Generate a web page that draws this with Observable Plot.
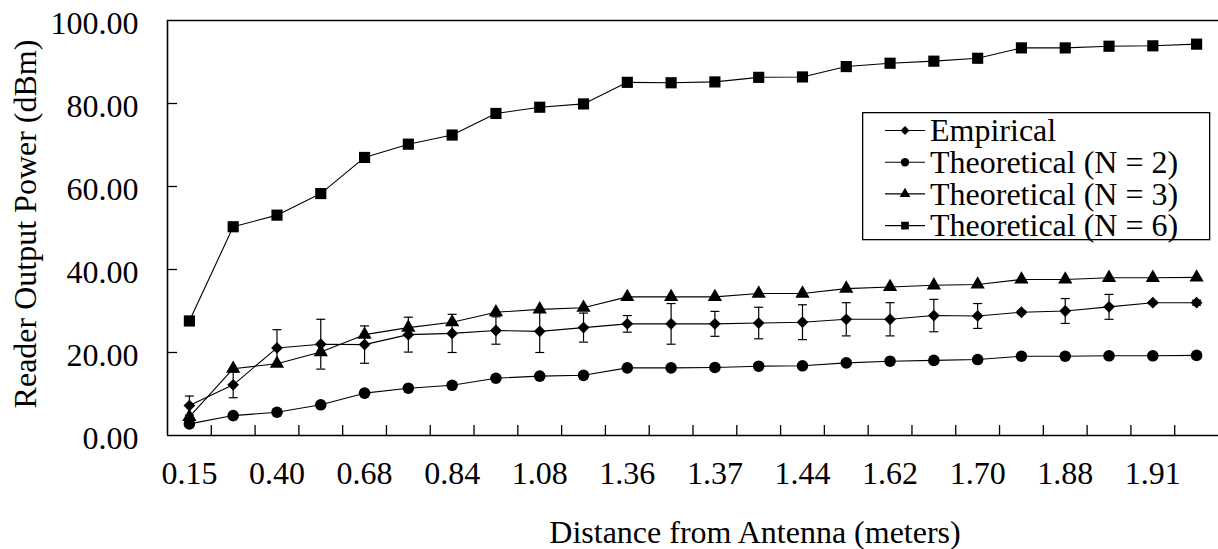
<!DOCTYPE html>
<html>
<head>
<meta charset="utf-8">
<script src="https://cdn.jsdelivr.net/npm/d3@7"></script>
<script src="https://cdn.jsdelivr.net/npm/@observablehq/plot@0.6"></script>
<style>
  html, body { margin: 0; padding: 0; background: #fff; }
  #wrap { position: relative; width: 1218px; height: 549px; overflow: hidden; }
  #legend { position: absolute; left: 862px; top: 112px; overflow: visible; }
</style>
</head>
<body>
<div id="wrap"><div id="chart"></div><svg id="legend" width="349" height="140"></svg></div>
<script>
// ---- data ----
const distanceLabels = ["0.15","0.40","0.68","0.84","1.08","1.36","1.37","1.44","1.62","1.70","1.88","1.91"]; // shown on every other category
const labelStep = 2;
const empirical     = [7.2,12.2,21.1,22.0,21.9,24.3,24.6,25.3,25.1,26.0,26.9,26.9,26.9,27.1,27.3,28.0,28.0,28.9,28.8,29.7,30.0,31.0,32.0,32.0];
const empiricalErr  = [2.3,3.1,4.4,6.0,4.5,4.2,4.6,3.3,5.1,3.5,2.0,4.9,3.0,3.8,4.2,4.0,4.0,3.9,3.0,0.4,3.0,3.0,0.3,0.6];
const theoreticalN2 = [2.8,4.8,5.6,7.4,10.2,11.4,12.1,13.8,14.3,14.5,16.3,16.3,16.4,16.7,16.8,17.5,17.9,18.1,18.3,19.1,19.1,19.2,19.2,19.3];
const theoreticalN3 = [4.5,16.1,17.3,20.1,24.3,26.0,27.3,29.7,30.4,30.8,33.4,33.4,33.4,34.2,34.2,35.4,35.8,36.2,36.4,37.6,37.6,38.0,38.0,38.1];
const theoreticalN6 = [27.6,50.3,53.1,58.3,67.0,70.2,72.4,77.6,79.1,79.9,85.1,85.0,85.2,86.3,86.4,88.9,89.7,90.2,90.9,93.4,93.4,93.8,93.9,94.3];
const yTicks = [0, 20, 40, 60, 80, 100];
const seriesNames = ["Empirical", "Theoretical (N = 2)", "Theoretical (N = 3)", "Theoretical (N = 6)"];
const seriesSymbols = ["diamond2", "circle", "triangle", "square"];
const seriesValues = [empirical, theoreticalN2, theoreticalN3, theoreticalN6];
const xTitle = "Distance from Antenna (meters)";
const yTitle = "Reader Output Power (dBm)";

// ---- layout ----
const W = 1218, H = 549;
const mL = 167, mR = 0, mT = 20, mB = 114;
const plotW = W - mL - mR, plotH = H - mT - mB;
const n = theoreticalN6.length;
const FONT = '"Liberation Serif", "Times New Roman", serif';

const symbolR = {diamond2: 5.3, circle: 5.8, triangle: 5.3, square: 6.3};

const seriesRows = seriesValues.map((vals) => vals.map((v, i) => ({i, v})));
const errRows = empirical.map((v, i) => ({i, v, e: empiricalErr[i]}));
const boundaries = d3.range(n - 1).map(i => i + 0.5);
const labelIdx = distanceLabels.map((_, k) => k * labelStep);

const capSymbol = {draw(ctx) { ctx.moveTo(-4.5, 0); ctx.lineTo(4.5, 0); }};

const marks = [
  // error bars (Empirical)
  Plot.ruleX(errRows, {x: "i", y1: d => d.v - d.e, y2: d => d.v + d.e, stroke: "#000", strokeWidth: 1.2}),
  Plot.dot(errRows, {x: "i", y: d => d.v + d.e, symbol: capSymbol, fill: "none", stroke: "#000", strokeWidth: 1.2, r: 3}),
  Plot.dot(errRows, {x: "i", y: d => d.v - d.e, symbol: capSymbol, fill: "none", stroke: "#000", strokeWidth: 1.2, r: 3}),
];
seriesRows.forEach((rows, s) => {
  marks.push(Plot.line(rows, {x: "i", y: "v", stroke: "#000", strokeWidth: 1.1}));
  marks.push(Plot.dot(rows, {x: "i", y: "v", symbol: seriesSymbols[s], r: symbolR[seriesSymbols[s]], fill: "#000", stroke: "none"}));
});
marks.push(
  // frame lines
  Plot.ruleY([0], {stroke: "#000", strokeWidth: 1.6}),
  Plot.ruleY([100], {stroke: "#000", strokeWidth: 1.6}),
  Plot.ruleX([-0.5], {stroke: "#000", strokeWidth: 1.6}),
  // inside tick marks
  Plot.tickX(boundaries, {x: d => d, stroke: "#000", strokeWidth: 1.3, insetTop: plotH - 10}),
  Plot.tickY(yTicks.filter(t => t > 0 && t < 100), {y: d => d, stroke: "#000", strokeWidth: 1.3, insetRight: plotW - 10}),
  // axes labels
  Plot.axisX({ticks: labelIdx, tickFormat: i => distanceLabels[i / labelStep], tickSize: 0, tickPadding: 26, label: null, fontSize: 32}),
  Plot.axisY({ticks: yTicks, tickFormat: d3.format(".2f"), tickSize: 0, tickPadding: 29, label: null, fontSize: 32, dy: 3}),
  // axis titles
  Plot.text([xTitle], {text: d => d, frameAnchor: "bottom", textAnchor: "middle", dx: 62, dy: 97, fontSize: 32, lineAnchor: "middle"}),
  Plot.text([yTitle], {text: d => d, frameAnchor: "left", textAnchor: "middle", rotate: -90, dx: -142, dy: -4, fontSize: 32, lineAnchor: "middle"})
);

const chart = Plot.plot({
  width: W, height: H,
  marginLeft: mL, marginRight: mR, marginTop: mT, marginBottom: mB,
  x: {type: "linear", domain: [-0.5, n - 0.5]},
  y: {domain: [0, 100]},
  style: {fontFamily: FONT, fontSize: "32px", background: "#fff", color: "#000", overflow: "visible"},
  marks
});
document.getElementById("chart").appendChild(chart);

// ---- legend (inside plot area) ----
const lg = d3.select("#legend");
lg.append("rect").attr("x", 0.65).attr("y", 0.65).attr("width", 347).attr("height", 127)
  .attr("fill", "#fff").attr("stroke", "#000").attr("stroke-width", 1.3);
const rowH = 31.7, row0 = 18.5;
seriesNames.forEach((name, s) => {
  const cy = row0 + s * rowH;
  const g = lg.append("g");
  g.append("line").attr("x1", 23).attr("x2", 63).attr("y1", cy).attr("y2", cy).attr("stroke", "#000").attr("stroke-width", 1.1);
  const sym = {diamond2: d3.symbolDiamond2, circle: d3.symbolCircle, triangle: d3.symbolTriangle, square: d3.symbolSquare}[seriesSymbols[s]];
  const size = {diamond2: 50, circle: 55, triangle: 50, square: 60}[seriesSymbols[s]];
  g.append("path").attr("d", d3.symbol(sym, size)()).attr("transform", `translate(43,${cy})`).attr("fill", "#000");
  g.append("text").attr("x", 68).attr("y", cy).attr("dy", "0.34em")
    .attr("font-family", FONT).attr("font-size", 32).attr("fill", "#000").text(name);
});
</script>
</body>
</html>
